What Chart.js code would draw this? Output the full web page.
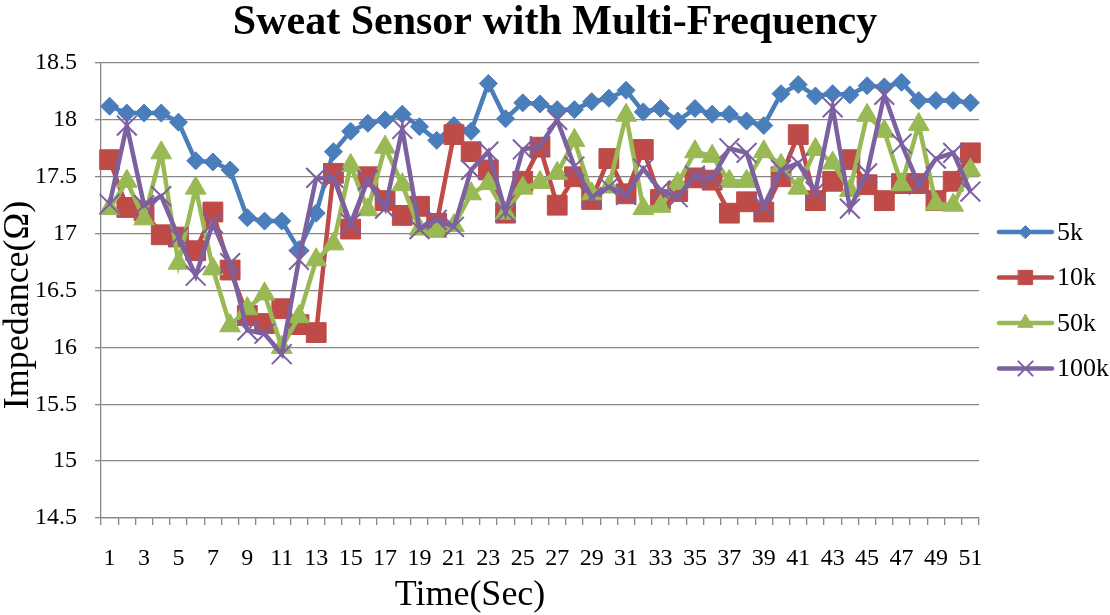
<!DOCTYPE html>
<html>
<head>
<meta charset="utf-8">
<script src="https://cdn.jsdelivr.net/npm/chart.js@4.4.0/dist/chart.umd.min.js"></script>
<style>
html,body{margin:0;padding:0;background:#ffffff;}
#wrap{width:1110px;height:615px;}
</style>
</head>
<body>
<div id="wrap"><canvas id="c" width="1110" height="615"></canvas></div>
<script>
const categories = [1,2,3,4,5,6,7,8,9,10,11,12,13,14,15,16,17,18,19,20,21,22,23,24,25,26,27,28,29,30,31,32,33,34,35,36,37,38,39,40,41,42,43,44,45,46,47,48,49,50,51];

const seriesNames = ['5k', '10k', '50k', '100k'];

const values5k = [18.12, 18.06, 18.06, 18.06, 17.98, 17.64, 17.63, 17.56, 17.14, 17.11,
                  17.11, 16.86, 17.18, 17.72, 17.90, 17.97, 18.00, 18.05, 17.94, 17.82,
                  17.95, 17.90, 18.32, 18.01, 18.15, 18.14, 18.09, 18.09, 18.16, 18.19,
                  18.26, 18.07, 18.10, 17.99, 18.10, 18.05, 18.05, 17.99, 17.95, 18.23,
                  18.31, 18.21, 18.23, 18.22, 18.30, 18.29, 18.33, 18.17, 18.17, 18.17, 18.15];

const values10k = [17.65, 17.23, 17.20, 16.99, 16.97, 16.85, 17.19, 16.68, 16.28, 16.21,
                   16.34, 16.20, 16.13, 17.53, 17.04, 17.50, 17.29, 17.16, 17.24, 17.09,
                   17.87, 17.72, 17.56, 17.18, 17.46, 17.76, 17.25, 17.50, 17.30, 17.66,
                   17.35, 17.74, 17.30, 17.37, 17.49, 17.47, 17.18, 17.28, 17.19, 17.50,
                   17.87, 17.29, 17.46, 17.65, 17.43, 17.29, 17.44, 17.44, 17.29, 17.46, 17.71];

const values50k = [17.22, 17.46, 17.13, 17.71, 16.74, 17.40, 16.69, 16.19, 16.34, 16.47,
                   16.00, 16.27, 16.77, 16.91, 17.60, 17.21, 17.76, 17.43, 17.04, 17.02,
                   17.07, 17.35, 17.44, 17.18, 17.40, 17.45, 17.53, 17.82, 17.35, 17.41,
                   18.04, 17.22, 17.24, 17.44, 17.72, 17.68, 17.46, 17.46, 17.72, 17.60,
                   17.40, 17.74, 17.62, 17.38, 18.04, 17.90, 17.43, 17.96, 17.26, 17.25, 17.56];

const values100k = [17.26, 17.95, 17.25, 17.33, 16.97, 16.63, 17.09, 16.74, 16.15, 16.12,
                    15.94, 16.77, 17.49, 17.49, 17.09, 17.47, 17.22, 17.92, 17.04, 17.12,
                    17.06, 17.56, 17.72, 17.19, 17.74, 17.77, 18.00, 17.59, 17.32, 17.41,
                    17.34, 17.57, 17.38, 17.32, 17.51, 17.49, 17.75, 17.71, 17.24, 17.56,
                    17.62, 17.37, 18.11, 17.22, 17.53, 18.22, 17.79, 17.43, 17.66, 17.71, 17.37];

const yTicks = [14.5, 15, 15.5, 16, 16.5, 17, 17.5, 18, 18.5];

const titleText = 'Sweat Sensor with Multi-Frequency';
const xTitleText = 'Time(Sec)';
const yTitleText = 'Impedance(\u03A9)';

const SERIF = '"Liberation Serif", "Times New Roman", serif';

const styles = [
  {color: '#4A7EBB', pointStyle: 'rectRot', radius: 9, pbw: 1, order: 4},
  {color: '#BE4B48', pointStyle: 'rect', radius: 14, pbw: 1, order: 3},
  {color: '#98B954', pointStyle: 'triangle', radius: 12, pbw: 1, order: 2},
  {color: '#7D60A0', pointStyle: 'crossRot', radius: 14, pbw: 2, order: 1}
];
const allValues = [values5k, values10k, values50k, values100k];

const datasets = allValues.map((vals, i) => ({
  label: seriesNames[i],
  data: vals,
  yAxisID: 'y',
  borderColor: styles[i].color,
  backgroundColor: styles[i].color,
  borderWidth: 4.5,
  pointStyle: styles[i].pointStyle,
  pointRadius: styles[i].radius,
  pointHoverRadius: styles[i].radius,
  pointBackgroundColor: styles[i].color,
  pointBorderColor: styles[i].color,
  pointBorderWidth: styles[i].pbw,
  tension: 0,
  fill: false,
  order: styles[i].order
}));

const sideLegend = {
  id: 'sideLegend',
  afterDraw(chart) {
    const ctx = chart.ctx;
    chart.data.datasets.forEach((ds, i) => {
      const y = 232 + i * 45.5;
      ctx.save();
      ctx.strokeStyle = ds.borderColor;
      ctx.fillStyle = ds.borderColor;
      ctx.lineWidth = 4.5;
      ctx.lineCap = 'round';
      ctx.beginPath();
      ctx.moveTo(999, y);
      ctx.lineTo(1052, y);
      ctx.stroke();
      ctx.lineWidth = ds.pointBorderWidth;
      Chart.helpers.drawPoint(ctx, {
        pointStyle: ds.pointStyle,
        radius: ds.pointRadius * 0.72,
        rotation: 0,
        borderWidth: ds.pointBorderWidth
      }, 1025.5, y);
      ctx.fillStyle = '#000000';
      ctx.font = '26px ' + SERIF;
      ctx.textAlign = 'left';
      ctx.textBaseline = 'middle';
      ctx.fillText(ds.label, 1057, y + 1);
      ctx.restore();
    });
  }
};

const axisTitles = {
  id: 'axisTitles',
  afterDraw(chart) {
    const ctx = chart.ctx;
    ctx.save();
    ctx.fillStyle = '#000000';
    ctx.font = '36px ' + SERIF;
    ctx.textAlign = 'center';
    ctx.textBaseline = 'middle';
    ctx.fillText(xTitleText, 470, 596);
    ctx.translate(19, 305);
    ctx.rotate(-Math.PI / 2);
    ctx.fillText(yTitleText, 0, 0);
    ctx.restore();
  }
};

new Chart(document.getElementById('c'), {
  type: 'line',
  data: { labels: categories, datasets: datasets },
  options: {
    responsive: false,
    animation: false,
    devicePixelRatio: 1,
    layout: { padding: { left: 0, right: 0, top: 0, bottom: 0 } },
    plugins: {
      legend: { display: false },
      tooltip: { enabled: false },
      title: {
        display: true,
        text: titleText,
        color: '#000000',
        font: { family: SERIF, size: 42, weight: 'bold', lineHeight: 1 },
        padding: { top: 2, bottom: 19 }
      }
    },
    scales: {
      x: {
        type: 'category',
        offset: true,
        grid: {
          offset: true,
          drawOnChartArea: false,
          drawTicks: true,
          tickLength: 7,
          color: '#868686',
          lineWidth: 1.3
        },
        border: { display: true, color: '#868686', width: 1.3 },
        ticks: {
          autoSkip: false,
          maxRotation: 0,
          minRotation: 0,
          color: '#000000',
          font: { family: SERIF, size: 24, lineHeight: 1.1 },
          padding: 21,
          callback: function(value, index) {
            return index % 2 === 0 ? categories[index] : '';
          }
        },
        afterFit(scale) { scale.height = 97; }
      },
      y: {
        min: 14.5,
        max: 18.5,
        afterBuildTicks(scale) { scale.ticks = yTicks.map(v => ({ value: v })); },
        grid: {
          drawTicks: true,
          tickLength: 6,
          color: '#868686',
          lineWidth: 1.3
        },
        border: { display: true, color: '#868686', width: 1.3 },
        ticks: {
          color: '#000000',
          font: { family: SERIF, size: 24 },
          padding: 18,
          callback: function(value) { return String(value); }
        },
        afterFit(scale) { scale.width = 101; }
      },
      legendSpace: {
        type: 'linear',
        position: 'right',
        min: 14.5,
        max: 18.5,
        grid: { display: false, drawTicks: false },
        border: { display: false },
        ticks: { display: false },
        afterFit(scale) { scale.width = 131; }
      }
    }
  },
  plugins: [sideLegend, axisTitles]
});
</script>
</body>
</html>
